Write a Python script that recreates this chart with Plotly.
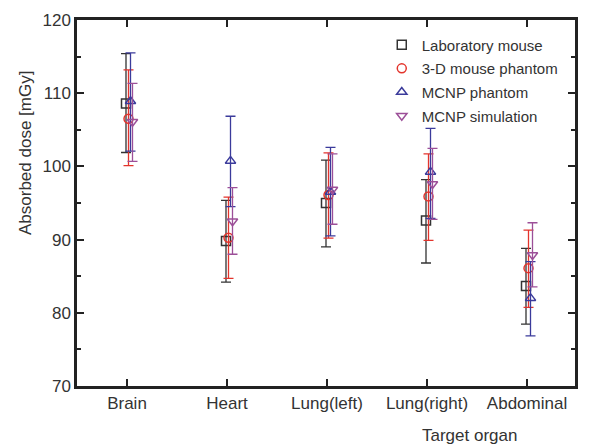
import plotly.graph_objects as go

organs = ["Brain", "Heart", "Lung(left)", "Lung(right)", "Abdominal"]

lab_mouse = [108.6, 89.8, 95.0, 92.6, 83.65]
lab_mouse_hi = [115.4, 95.35, 100.85, 98.2, 88.8]
lab_mouse_lo = [101.9, 84.2, 89.0, 86.8, 78.45]

phantom3d = [106.5, 90.25, 96.1, 95.9, 86.1]
phantom3d_hi = [113.2, 95.8, 101.85, 101.7, 91.3]
phantom3d_lo = [100.1, 84.7, 90.2, 89.9, 80.75]

mcnp_phantom = [108.9, 100.75, 96.5, 99.25, 82.0]
mcnp_phantom_hi = [115.5, 106.85, 102.6, 105.2, 87.0]
mcnp_phantom_lo = [102.1, 94.5, 90.5, 92.9, 76.85]

mcnp_sim = [106.1, 92.5, 96.85, 97.6, 87.9]
mcnp_sim_hi = [111.35, 97.1, 101.7, 102.45, 92.3]
mcnp_sim_lo = [100.7, 88.0, 92.1, 92.75, 83.55]

series = [
    ("Laboratory mouse", lab_mouse, lab_mouse_hi, lab_mouse_lo, "square-open", "#333333", -0.01),
    ("3-D mouse phantom", phantom3d, phantom3d_hi, phantom3d_lo, "circle-open", "#e3342c", 0.015),
    ("MCNP phantom", mcnp_phantom, mcnp_phantom_hi, mcnp_phantom_lo, "triangle-up-open", "#3b3b9b", 0.035),
    ("MCNP simulation", mcnp_sim, mcnp_sim_hi, mcnp_sim_lo, "triangle-down-open", "#9c4f98", 0.055),
]

fig = go.Figure()
for name, vals, hi, lo, sym, col, off in series:
    xs = [i + off for i in range(len(organs))]
    fig.add_trace(go.Scatter(
        x=xs, y=vals, mode="markers", name=name, legendgroup=name,
        marker=dict(symbol=sym, size=9, color=col, line=dict(width=1.5, color=col)),
        error_y=dict(type="data", symmetric=False,
                     array=[h - v for h, v in zip(hi, vals)],
                     arrayminus=[v - l for v, l in zip(vals, lo)],
                     color=col, thickness=1.3, width=5),
    ))

FONT = "Liberation Sans, Arial, sans-serif"
axis_font = dict(family=FONT, size=17, color="#333333")

# the page body adds an 8px margin, so the figure is drawn 8px in from the corner
fig.update_layout(
    width=581, height=438,
    margin=dict(l=69, r=14, t=12, b=60, autoexpand=False),
    paper_bgcolor="white", plot_bgcolor="white",
    font=axis_font,
    showlegend=True,
    legend=dict(x=0.612, y=0.977, xanchor="left", yanchor="top",
                font=dict(family=FONT, size=15, color="#333333"),
                bgcolor="rgba(0,0,0,0)", itemwidth=30, tracegroupgap=1.2),
    xaxis=dict(range=[-0.5, 4.48], tickmode="array", tickvals=list(range(len(organs))),
               ticktext=organs, showline=True, linecolor="#222222", linewidth=2.5,
               mirror="ticks", ticks="inside", ticklen=7, tickwidth=2, tickcolor="#222222",
               showgrid=False, zeroline=False, tickfont=axis_font, automargin=False),
    yaxis=dict(range=[70, 120], tickmode="linear", tick0=70, dtick=10,
               showline=True, linecolor="#222222", linewidth=2.5,
               mirror="ticks", ticks="inside", ticklen=7, tickwidth=2, tickcolor="#222222",
               minor=dict(ticks="inside", ticklen=4, tickwidth=2, tickcolor="#222222", dtick=5),
               showgrid=False, zeroline=False, tickfont=axis_font, automargin=False),
)

fig.add_annotation(text="Absorbed dose [mGy]", xref="paper", yref="paper", x=-0.1044, y=0.6366,
                   xanchor="center", yanchor="middle", textangle=-90, showarrow=False,
                   font=dict(family=FONT, size=17, color="#333333"))
fig.add_annotation(text="Target organ", xref="paper", yref="paper", x=0.789, y=-0.134,
                   xanchor="center", yanchor="middle", showarrow=False,
                   font=dict(family=FONT, size=17, color="#333333"))

fig.write_html("out.html")
